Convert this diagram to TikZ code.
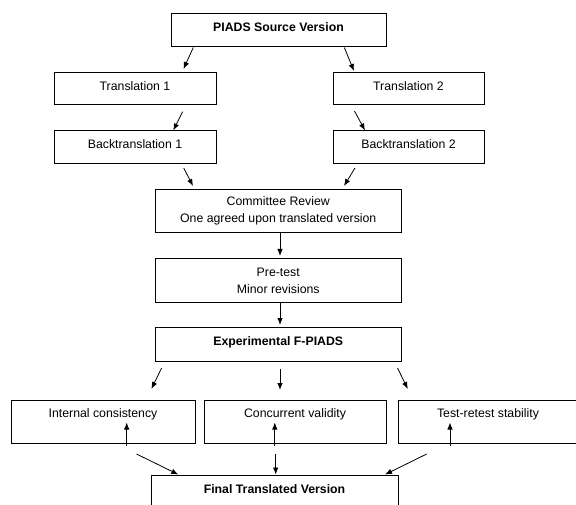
\documentclass[tikz,border=0pt]{standalone}
\usepackage{fontspec}
\setmainfont{Liberation Sans}
\usetikzlibrary{arrows.meta}
\begin{document}
\begin{tikzpicture}[x=1pt,y=-1pt,
  box/.style={draw,line width=1pt,rectangle,inner sep=0pt,align=center,
    font=\fontsize{12.3}{16.7}\selectfont,text height=9pt,text depth=6pt},
  bbox/.style={box,font=\fontsize{12.3}{16.7}\selectfont\bfseries},
  twoline/.style={text height=,text depth=},
  arr/.style={line width=0.8pt,-{Latex[length=7pt,width=5.5pt]}}]
\useasboundingbox (0,0) rectangle (576,505);
\clip (0,0) rectangle (576,505);
% boxes
\node[bbox,minimum width=215pt,minimum height=33pt] (src) at (278.5,30.5) {PIADS Source Version};
\node[box,minimum width=162pt,minimum height=32pt] (t1) at (135,89) {Translation 1};
\node[box,minimum width=151pt,minimum height=32pt] (t2) at (408.5,89) {Translation 2};
\node[box,minimum width=162pt,minimum height=33pt] (b1) at (135,147.5) {Backtranslation 1};
\node[box,minimum width=151pt,minimum height=33pt] (b2) at (408.5,147.5) {Backtranslation 2};
\node[box,twoline,minimum width=246.5pt,minimum height=43.4pt] (cr) at (278.25,211) {Committee Review\\One agreed upon translated version};
\node[box,twoline,minimum width=246.5pt,minimum height=43.5pt] (pt) at (278.25,280.7) {Pre-test\\Minor revisions};
\node[bbox,minimum width=246.5pt,minimum height=34pt] (ex) at (278.25,344) {Experimental F-PIADS};
\node[box,text depth=16.8pt,minimum width=184pt,minimum height=43.5pt] (ic) at (103,421.75) {Internal consistency};
\node[box,text depth=16.8pt,minimum width=182pt,minimum height=43.5pt] (cv) at (295,421.75) {Concurrent validity};
\node[box,text depth=16.8pt,minimum width=180pt,minimum height=43.5pt] (tr) at (488,421.75) {Test-retest stability};
\node[bbox,text depth=13pt,minimum width=247pt,minimum height=40pt] (fin) at (274.5,495) {Final Translated Version};
% free arrow ends
\coordinate (e1) at (183.5,69);
\coordinate (e2) at (354,71);
\coordinate (s3) at (182.7,111.7);
\coordinate (s4) at (354.5,111);
\coordinate (s5) at (183.7,168);
\coordinate (e5) at (193,186);
\coordinate (s6) at (355,168);
\coordinate (e6) at (344,186);
\coordinate (e7) at (280,256);
\coordinate (e8) at (280,325);
\coordinate (s9) at (161.6,368);
\coordinate (e9) at (151.4,389);
\coordinate (s10) at (280,369);
\coordinate (e10) at (280,390);
\coordinate (s11) at (397.5,368);
\coordinate (e11) at (407.8,389);
\coordinate (u1) at (126.7,422.5);
\coordinate (u2) at (274.8,422.5);
\coordinate (u3) at (450,422.5);
\coordinate (s13) at (136.5,454);
\coordinate (s14) at (275.7,454);
\coordinate (s15) at (426.7,454);
% arrows
\draw[arr] ([xshift=-85.2pt]src.south) -- (e1);
\draw[arr] ([xshift=65.8pt]src.south) -- (e2);
\draw[arr] (s3) -- ([xshift=38.3pt]b1.north);
\draw[arr] (s4) -- ([xshift=-43.5pt]b2.north);
\draw[arr] (s5) -- (e5);
\draw[arr] (s6) -- (e6);
\draw[arr] ([xshift=1.75pt]cr.south) -- (e7);
\draw[arr] ([xshift=1.75pt]pt.south) -- (e8);
\draw[arr] (s9) -- (e9);
\draw[arr] (s10) -- (e10);
\draw[arr] (s11) -- (e11);
\draw[arr] ([xshift=23.7pt,yshift=-2pt]ic.south) -- (u1);
\draw[arr] ([xshift=-20.2pt,yshift=-2pt]cv.south) -- (u2);
\draw[arr] ([xshift=-38pt,yshift=-2pt]tr.south) -- (u3);
\draw[arr] (s13) -- ([xshift=-96.2pt]fin.north);
\draw[arr] (s14) -- ([xshift=1.2pt]fin.north);
\draw[arr] (s15) -- ([xshift=110.5pt]fin.north);
\end{tikzpicture}
\end{document}
